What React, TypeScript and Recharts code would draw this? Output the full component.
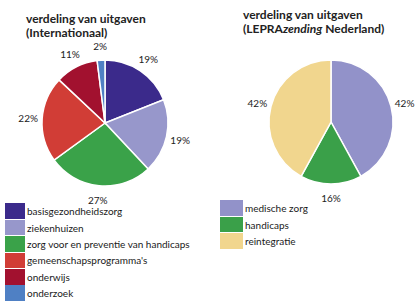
import React from 'react';
import { PieChart, Pie, Cell } from 'recharts';

const intlCategories = [
  'basisgezondheidszorg',
  'ziekenhuizen',
  'zorg voor en preventie van handicaps',
  "gemeenschapsprogramma's",
  'onderwijs',
  'onderzoek',
];
const intlValues = [19, 19, 27, 22, 11, 2];
const intlColors = ['#3b2a8b', '#9797cb', '#3aa249', '#d13d36', '#a2112f', '#4f80c4'];

const nlCategories = ['medische zorg', 'handicaps', 'reintegratie'];
const nlValues = [42, 16, 42];
const nlColors = ['#9292c9', '#3aa049', '#f1d68e'];

const intlData = intlCategories.map((name, i) => ({ name, value: intlValues[i] }));
const nlData = nlCategories.map((name, i) => ({ name, value: nlValues[i] }));

const FONT = 'Lato, "Open Sans", sans-serif';
const RADIAN = Math.PI / 180;

const renderLabel = (p: any) => {
  const r = p.outerRadius + 14;
  const x = p.cx + r * Math.cos(-p.midAngle * RADIAN);
  const y = p.cy + r * Math.sin(-p.midAngle * RADIAN);
  return (
    <text x={x} y={y} textAnchor="middle" dominantBaseline="central" fontSize={10} fill="#222" fontFamily={FONT}>
      {`${p.value}%`}
    </text>
  );
};

const Legend = ({ names, colors, left, top, sw }: any) => (
  <div style={{ position: 'absolute', left, top }}>
    {names.map((n: string, i: number) => (
      <div key={n} style={{ display: 'flex', alignItems: 'center', height: 16.4 }}>
        <div style={{ width: sw, height: 15.5, background: colors[i] }} />
        <span style={{ marginLeft: 2, fontSize: 10, fontFamily: FONT, color: '#1a1a1a', whiteSpace: 'nowrap' }}>{n}</span>
      </div>
    ))}
  </div>
);

const titleStyle: React.CSSProperties = {
  position: 'absolute',
  fontFamily: FONT,
  fontWeight: 700,
  fontSize: 12,
  lineHeight: '14px',
  color: '#222',
  whiteSpace: 'nowrap',
};

export default function App() {
  return (
    <div style={{ position: 'absolute', left: 0, top: 0, width: 416, height: 303, background: '#fff', overflow: 'hidden' }}>
      <PieChart width={416} height={303} style={{ position: 'absolute', left: 0, top: 0 }}>
        <Pie
          data={intlData}
          dataKey="value"
          nameKey="name"
          cx={100}
          cy={118}
          outerRadius={63}
          startAngle={90}
          endAngle={-270}
          stroke="#fff"
          strokeWidth={1.5}
          label={renderLabel}
          labelLine={false}
          isAnimationActive={false}
        >
          {intlData.map((d, i) => (
            <Cell key={d.name} fill={intlColors[i]} />
          ))}
        </Pie>
        <Pie
          data={nlData}
          dataKey="value"
          nameKey="name"
          cx={326}
          cy={117}
          outerRadius={62}
          startAngle={90}
          endAngle={-270}
          stroke="#fff"
          strokeWidth={1.5}
          label={renderLabel}
          labelLine={false}
          isAnimationActive={false}
        >
          {nlData.map((d, i) => (
            <Cell key={d.name} fill={nlColors[i]} />
          ))}
        </Pie>
      </PieChart>
      <div style={{ ...titleStyle, left: 26, top: 12 }}>
        verdeling van uitgaven
        <br />
        (Internationaal)
      </div>
      <div style={{ ...titleStyle, left: 243, top: 8 }}>
        verdeling van uitgaven
        <br />
        (LEPRA<i>zending</i> Nederland)
      </div>
      <Legend names={intlCategories} colors={intlColors} left={5} top={203} sw={20} />
      <Legend names={nlCategories} colors={nlColors} left={220} top={200} sw={23} />
    </div>
  );
}
